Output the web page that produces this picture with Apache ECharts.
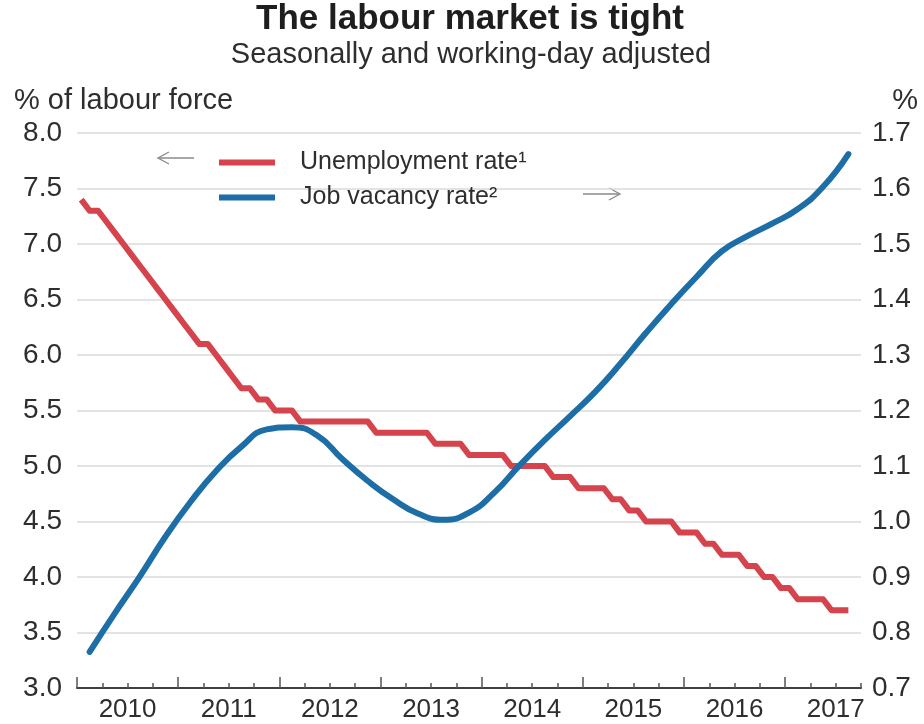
<!DOCTYPE html>
<html>
<head>
<meta charset="utf-8">
<script src="https://cdn.jsdelivr.net/npm/echarts@6/dist/echarts.min.js"></script>
<style>
  html, body { margin: 0; padding: 0; background: #ffffff; }
  #chart { width: 924px; height: 724px; }
</style>
</head>
<body>
<div id="chart"></div>
<script>
// Year labels along the time axis (one per calendar year, placed mid-year)
const years = ['2010', '2011', '2012', '2013', '2014', '2015', '2016', '2017'];

// Unemployment rate, % of labour force, monthly from January 2010
const unemployment = [
  7.4, 7.3, 7.3, 7.2, 7.1, 7.0, 6.9, 6.8, 6.7, 6.6, 6.5, 6.4,   // 2010
  6.3, 6.2, 6.1, 6.1, 6.0, 5.9, 5.8, 5.7, 5.7, 5.6, 5.6, 5.5,   // 2011
  5.5, 5.5, 5.4, 5.4, 5.4, 5.4, 5.4, 5.4, 5.4, 5.4, 5.4, 5.3,   // 2012
  5.3, 5.3, 5.3, 5.3, 5.3, 5.3, 5.2, 5.2, 5.2, 5.2, 5.1, 5.1,   // 2013
  5.1, 5.1, 5.1, 5.0, 5.0, 5.0, 5.0, 5.0, 4.9, 4.9, 4.9, 4.8,   // 2014
  4.8, 4.8, 4.8, 4.7, 4.7, 4.6, 4.6, 4.5, 4.5, 4.5, 4.5, 4.4,   // 2015
  4.4, 4.4, 4.3, 4.3, 4.2, 4.2, 4.2, 4.1, 4.1, 4.0, 4.0, 3.9,   // 2016
  3.9, 3.8, 3.8, 3.8, 3.8, 3.7, 3.7, 3.7                        // 2017 (Jan-Aug)
];

// Job vacancy rate, %, quarterly from 2010 Q1
const vacancy = [
  0.765, 0.835, 0.902, 0.973,   // 2010
  1.036, 1.091, 1.135, 1.166,   // 2011
  1.170, 1.155, 1.112, 1.073,   // 2012
  1.040, 1.014, 1.003, 1.016,   // 2013
  1.052, 1.101, 1.147, 1.190,   // 2014
  1.234, 1.285, 1.340, 1.392,   // 2015
  1.441, 1.487, 1.514, 1.537,   // 2016
  1.563, 1.603, 1.662           // 2017 (Q1-Q3)
];

// Axis ranges
const leftAxis = { min: 3, max: 8, step: 0.5 };
const rightAxis = { min: 0.7, max: 1.7, step: 0.1 };
const monthSpan = 93; // January 2010 to end of September 2017, in months

// x is measured in months since 1 January 2010; points sit mid-period
const unemploymentPoints = unemployment.map((v, i) => [i + 0.5, v]);
const vacancyPoints = vacancy.map((v, q) => [q * 3 + 1.5, v]);

const quarterTicks = [];
for (let m = 0; m <= monthSpan; m += 3) quarterTicks.push(m);
const yearTicks = years.map((y, k) => k * 12);
const yearLabelPos = years.map((y, k) => k * 12 + 6);

const FONT = '"Liberation Sans", Arial, Helvetica, sans-serif';
const RED = '#d5434c';
const BLUE = '#1d6ea6';
const TEXT = '#2e2e2e';
const ARROW = '#8a8a8a';

const chart = echarts.init(document.getElementById('chart'), null, { renderer: 'canvas' });

chart.setOption({
  backgroundColor: '#ffffff',
  animation: false,
  textStyle: { fontFamily: FONT },
  grid: { left: 77, right: 63, top: 133, bottom: 36, containLabel: false },
  legend: {
    orient: 'vertical',
    left: 214,
    top: 142,
    itemWidth: 56,
    itemHeight: 6,
    itemGap: 4,
    icon: 'rect',
    selectedMode: false,
    textStyle: { fontFamily: FONT, fontSize: 25, color: TEXT, lineHeight: 31, padding: [0, 0, 0, 20] },
    data: ['Unemployment rate¹', 'Job vacancy rate²']
  },
  xAxis: [
    {
      type: 'value',
      position: 'bottom',
      min: 0,
      max: monthSpan,
      axisLine: { show: true, onZero: false, lineStyle: { color: '#404040', width: 2 } },
      axisTick: { show: true, inside: true, length: 5, customValues: quarterTicks, lineStyle: { color: '#555', width: 1.5 } },
      axisLabel: {
        show: true,
        customValues: yearLabelPos,
        margin: 9,
        fontSize: 26,
        color: TEXT,
        fontFamily: FONT,
        formatter: v => years[Math.round((v - 6) / 12)]
      },
      splitLine: { show: false }
    },
    {
      type: 'value',
      position: 'bottom',
      min: 0,
      max: monthSpan,
      axisLine: { show: false },
      axisTick: { show: true, inside: true, length: 11, customValues: yearTicks, lineStyle: { color: '#555', width: 1.5 } },
      axisLabel: { show: false },
      splitLine: { show: false }
    }
  ],
  yAxis: [
    {
      type: 'value',
      position: 'left',
      min: leftAxis.min,
      max: leftAxis.max,
      interval: leftAxis.step,
      axisLine: { show: false },
      axisTick: { show: false },
      axisLabel: { margin: 15, fontSize: 28, color: TEXT, fontFamily: FONT, formatter: v => v.toFixed(1) },
      splitLine: { show: true, lineStyle: { color: '#dadada', width: 1.5 } }
    },
    {
      type: 'value',
      position: 'right',
      min: rightAxis.min,
      max: rightAxis.max,
      interval: rightAxis.step,
      axisLine: { show: false },
      axisTick: { show: false },
      axisLabel: { margin: 11, fontSize: 28, color: TEXT, fontFamily: FONT, formatter: v => v.toFixed(1) },
      splitLine: { show: false }
    }
  ],
  series: [
    {
      name: 'Unemployment rate¹',
      type: 'line',
      xAxisIndex: 0,
      yAxisIndex: 0,
      data: unemploymentPoints,
      showSymbol: false,
      symbol: 'none',
      color: RED,
      lineStyle: { color: RED, width: 6, join: 'round', cap: 'butt' },
      z: 3
    },
    {
      name: 'Job vacancy rate²',
      type: 'line',
      xAxisIndex: 0,
      yAxisIndex: 1,
      data: vacancyPoints,
      smooth: 0.5,
      showSymbol: false,
      symbol: 'none',
      color: BLUE,
      lineStyle: { color: BLUE, width: 6, join: 'round', cap: 'round' },
      z: 4
    }
  ],
  graphic: [
    {
      type: 'text', position: [470, 2],
      style: { text: 'The labour market is tight', font: 'bold 35px ' + FONT, fill: '#1e1e1e', align: 'center' }
    },
    {
      type: 'text', position: [471, 40],
      style: { text: 'Seasonally and working-day adjusted', font: '29px ' + FONT, fill: TEXT, align: 'center' }
    },
    {
      type: 'text', position: [14, 86],
      style: { text: '% of labour force', font: '29px ' + FONT, fill: TEXT, align: 'left' }
    },
    {
      type: 'text', position: [918, 86],
      style: { text: '%', font: '29px ' + FONT, fill: TEXT, align: 'right' }
    },
    // Left-pointing arrow: unemployment rate reads off the left scale
    {
      type: 'polyline', silent: true,
      shape: { points: [[158, 158], [194, 158]] },
      style: { stroke: ARROW, lineWidth: 1.3, fill: null }
    },
    {
      type: 'polyline', silent: true,
      shape: { points: [[169, 152], [158, 158], [169, 164]] },
      style: { stroke: ARROW, lineWidth: 1.3, fill: null }
    },
    // Right-pointing arrow: vacancy rate reads off the right scale
    {
      type: 'polyline', silent: true,
      shape: { points: [[583, 194], [620, 194]] },
      style: { stroke: ARROW, lineWidth: 1.3, fill: null }
    },
    {
      type: 'polyline', silent: true,
      shape: { points: [[609, 188], [620, 194], [609, 200]] },
      style: { stroke: ARROW, lineWidth: 1.3, fill: null }
    }
  ]
});
</script>
</body>
</html>
